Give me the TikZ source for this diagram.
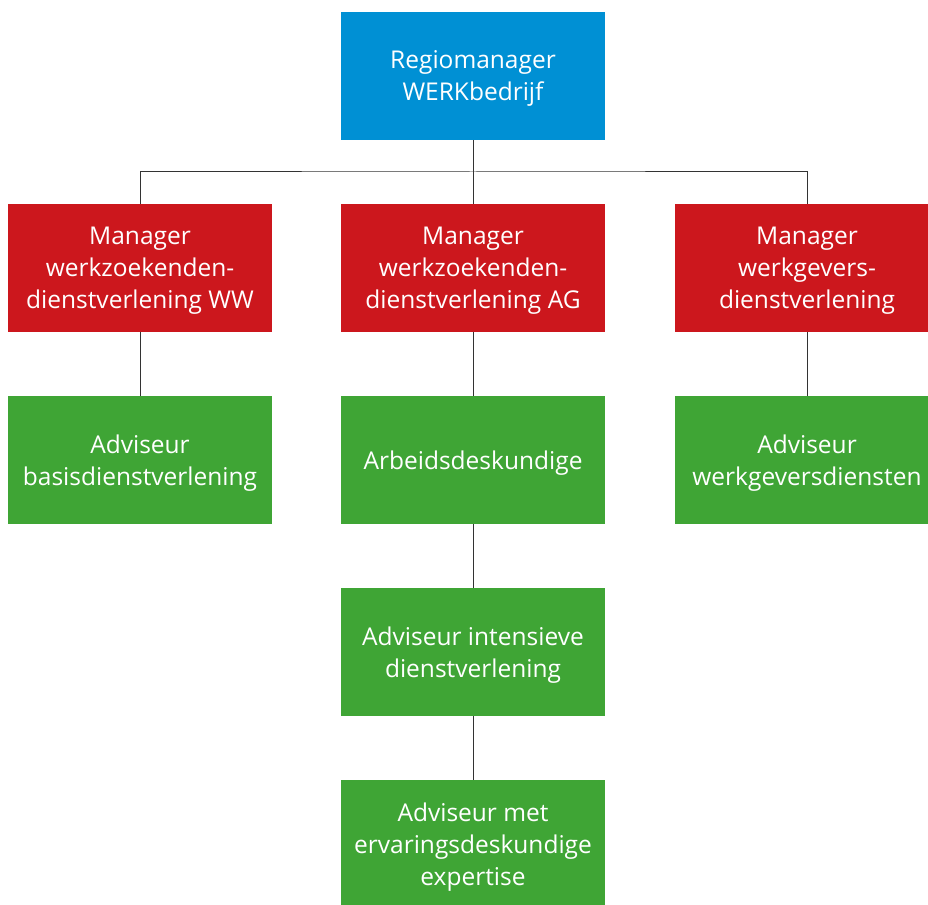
\documentclass[tikz,border=0pt]{standalone}
\usepackage{fontspec}
\setmainfont{Open Sans}
\definecolor{regioblue}{HTML}{0090D4}
\definecolor{mgrred}{HTML}{CC171D}
\definecolor{advgreen}{HTML}{3FA535}
\definecolor{linegray}{HTML}{333333}
\tikzset{
  box/.style={minimum width=264pt, minimum height=128pt, inner sep=0pt,
    text depth=-10pt, text=white, align=center,
    font=\fontsize{24.5}{32}\selectfont},
  link/.style={draw=linegray, line width=1pt}
}
\begin{document}
\begin{tikzpicture}[x=1pt,y=-1pt]
	\useasboundingbox (0,0) rectangle (928,904);
	\node [box, fill=regioblue] (regio) at (473,76) {Regiomanager\\WERKbedrijf};
	\node [box, fill=mgrred] (mgrww) at (140,268) {Manager\\werkzoekenden-\\dienstverlening WW};
	\node [box, fill=mgrred] (mgrag) at (473,268) {Manager\\werkzoekenden-\\dienstverlening AG};
	\node [box, fill=mgrred] (mgrwg) at (807,268) {Manager\\werkgevers-\\dienstverlening};
	\node [box, fill=advgreen] (basis) at (140,460) {Adviseur\\basisdienstverlening};
	\node [box, fill=advgreen] (arbeid) at (473,460) {Arbeidsdeskundige};
	\node [box, fill=advgreen] (wgdiensten) at (807,460) {Adviseur\\werkgeversdiensten};
	\node [box, fill=advgreen] (intensief) at (473,652) {Adviseur intensieve\\dienstverlening};
	\node [box, fill=advgreen] (ervaring) at (473,844) {Adviseur met\\ervaringsdeskundige\\expertise};
	% connectors
	\coordinate (split) at (473,172);
	\draw [link] (regio.south) -- (mgrag.north);
	\draw [link] (mgrww.north) |- (split) -| (mgrwg.north);
	\draw [link] (mgrww.south) -- (basis.north);
	\draw [link] (mgrag.south) -- (arbeid.north);
	\draw [link] (mgrwg.south) -- (wgdiensten.north);
	\draw [link] (arbeid.south) -- (intensief.north);
	\draw [link] (intensief.south) -- (ervaring.north);
\end{tikzpicture}
\end{document}
